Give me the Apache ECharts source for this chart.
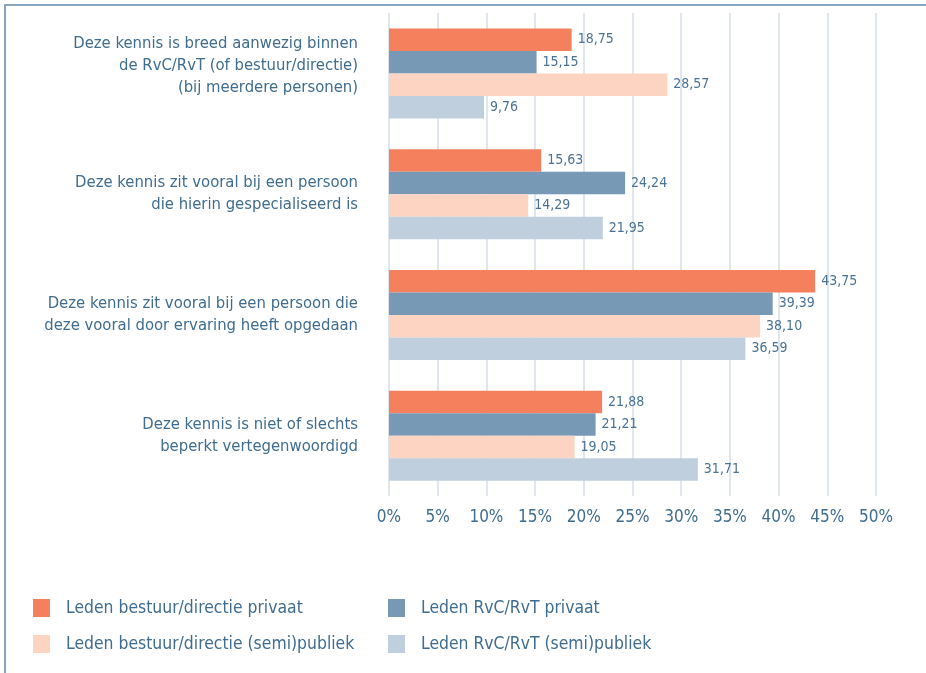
<!DOCTYPE html>
<html>
<head>
<meta charset="utf-8">
<script src="https://cdn.jsdelivr.net/npm/echarts@6/dist/echarts.min.js"></script>
<style>
  html, body { margin: 0; padding: 0; background: #fff; }
  #chart { width: 926px; height: 673px; }
</style>
</head>
<body>
<div id="chart"></div>
<script>
// categories (top to bottom)
var categories = [
  'Deze kennis is breed aanwezig binnen\nde RvC/RvT (of bestuur/directie)\n(bij meerdere personen)',
  'Deze kennis zit vooral bij een persoon\ndie hierin gespecialiseerd is',
  'Deze kennis zit vooral bij een persoon die\ndeze vooral door ervaring heeft opgedaan',
  'Deze kennis is niet of slechts\nbeperkt vertegenwoordigd'
]
var seriesNames = [
  'Leden bestuur/directie privaat',
  'Leden RvC/RvT privaat',
  'Leden bestuur/directie (semi)publiek',
  'Leden RvC/RvT (semi)publiek'
]
var bestuurPrivaat = [18.75, 15.63, 43.75, 21.88]
var rvcPrivaat = [15.15, 24.24, 39.39, 21.21]
var bestuurPubliek = [28.57, 14.29, 38.10, 19.05]
var rvcPubliek = [9.76, 21.95, 36.59, 31.71]
var colors = ['#f4805e', '#7799b5', '#fdd3c1', '#bfcfdd']

var font = "'Liberation Sans Narrow', 'DejaVu Sans Condensed', sans-serif"
var textColor = '#3f6c8f'

let chart = echarts.init(document.getElementById('chart'))

function makeSeries(name, values, color) {
  return {
    name: name,
    type: 'bar',
    data: values,
    barWidth: 22.5,
    barGap: '0%',
    itemStyle: { color: color },
    label: {
      show: true,
      position: 'right',
      distance: 6,
      color: '#4a7296',
      fontFamily: font,
      fontSize: 14,
      formatter: function (p) {
        return p.value.toFixed(2).replace('.', ',')
      }
    },
    emphasis: { disabled: true }
  }
}

var legendText = { color: textColor, fontFamily: font, fontSize: 17.4, padding: [0, 0, 0, 11] }

chart.setOption({
  backgroundColor: '#fff',
  animation: false,
  graphic: [{
    type: 'rect',
    shape: { x: 5, y: 5, width: 1000, height: 1000 },
    style: { fill: 'none', stroke: '#8aa5be', lineWidth: 2 },
    silent: true
  }],
  grid: { left: 389, top: 13, width: 487, height: 483 },
  legend: [{
    orient: 'vertical',
    left: 33, top: 599, padding: 0,
    itemWidth: 17, itemHeight: 18, itemGap: 18,
    icon: 'rect',
    selectedMode: false,
    data: [seriesNames[0], seriesNames[2]],
    textStyle: legendText
  }, {
    orient: 'vertical',
    left: 388, top: 599, padding: 0,
    itemWidth: 17, itemHeight: 18, itemGap: 18,
    icon: 'rect',
    selectedMode: false,
    data: [seriesNames[1], seriesNames[3]],
    textStyle: legendText
  }],
  xAxis: {
    type: 'value',
    min: 0, max: 50, interval: 5,
    axisLine: { show: false },
    axisTick: { show: false },
    splitLine: { lineStyle: { color: '#d5dee8', width: 1.5 } },
    axisLabel: {
      formatter: '{value}%',
      color: textColor, fontFamily: font, fontSize: 17, margin: 13
    }
  },
  yAxis: {
    type: 'category',
    inverse: true,
    data: categories,
    axisLine: { show: false },
    axisTick: { show: false },
    axisLabel: {
      color: textColor, fontFamily: font, fontSize: 16.5, lineHeight: 22,
      margin: 31, align: 'right',
      formatter: function (v, i) {
        // de drieregelige tekst staat in het origineel iets hoger
        return i === 0 ? v + '\n{gap| }' : v
      },
      rich: { gap: { fontSize: 1, lineHeight: 16 } }
    }
  },
  series: [
    makeSeries(seriesNames[0], bestuurPrivaat, colors[0]),
    makeSeries(seriesNames[1], rvcPrivaat, colors[1]),
    makeSeries(seriesNames[2], bestuurPubliek, colors[2]),
    makeSeries(seriesNames[3], rvcPubliek, colors[3])
  ]
})
</script>
</body>
</html>
